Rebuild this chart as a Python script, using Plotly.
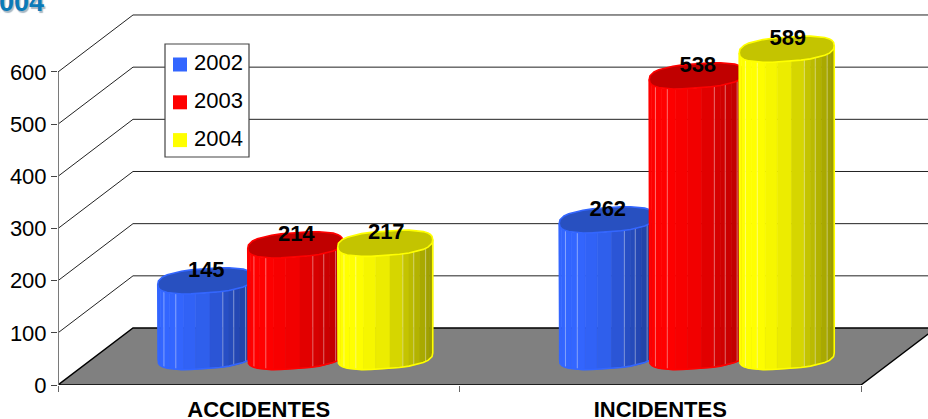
import math
import plotly.graph_objects as go

CATEGORIES = ["ACCIDENTES", "INCIDENTES"]
YEARS = ["2002", "2003", "2004"]
VALUES_2002 = [145, 262]
VALUES_2003 = [214, 538]
VALUES_2004 = [217, 589]
Y_TICKS = [0, 100, 200, 300, 400, 500, 600]

SERIES = [VALUES_2002, VALUES_2003, VALUES_2004]
BRIGHT = [(51, 102, 255), (255, 0, 0), (255, 255, 0)]
CAP = ["#2850c0", "#c00000", "#c4c400"]
FONT = "Liberation Sans, Arial, sans-serif"

W, H = 928, 419
L, B = 58, 34
PX_CAT = 401.5
PX_UNIT = 0.5217
DEPTH_X, DEPTH_Y = 75, 57

plot_w, plot_h = W - L, H - B
x_min = -0.5
x_max = x_min + plot_w / PX_CAT
y_max = plot_h / PX_UNIT


def xu(px):
    return px / PX_CAT


def yu(px):
    return px / PX_UNIT


def paper_x(px):
    return (px - L) / plot_w


def paper_y(py):
    return 1 - py / plot_h


fig = go.Figure()

# back wall gridlines, running from the front axis to the rear wall
gx, gy = [], []
for t in Y_TICKS[1:]:
    gx += [x_min, x_min + xu(DEPTH_X), x_max + 0.1, None]
    gy += [t, t + yu(DEPTH_Y), t + yu(DEPTH_Y), None]
fig.add_trace(go.Scatter(x=gx, y=gy, mode="lines", line=dict(color="#222222", width=1),
                         hoverinfo="skip", showlegend=False))

# floor
fx = [x_min, x_min + xu(DEPTH_X), x_min + 2 + xu(DEPTH_X), x_min + 2, x_min]
fy = [0, yu(DEPTH_Y), yu(DEPTH_Y), 0, 0]
fig.add_trace(go.Scatter(x=fx, y=fy, mode="lines", fill="toself", fillcolor="#808080",
                         line=dict(color="#000000", width=1.4), hoverinfo="skip", showlegend=False))

# y axis line
fig.add_trace(go.Scatter(x=[x_min, x_min], y=[0, 600], mode="lines",
                         line=dict(color="#7a7a7a", width=2), hoverinfo="skip", showlegend=False))

A_PX, B_PX, S_PX = 47.5, 12.2, 3.5
EDGES = [-1, -.95, -.87, -.75, -.62, -.45, -.2, .1, .37, .5, .6, .73, .85, .93, 1]
GLOSS = [-.87, -.62, .37, .6, .85]
BASE = yu(DEPTH_Y / 2)
ROUND = 2.6


def shade(u):
    pts = [(-1, 1), (-.6, 1), (0, .92), (.4, .78), (1, .6)]
    for (a, fa), (b, fb) in zip(pts, pts[1:]):
        if u <= b:
            return fa + (fb - fa) * (u - a) / (b - a)
    return .6


def bulge(u):
    return max(0, 1 - abs(u) ** ROUND) ** (1 / ROUND)


def front(u):
    return yu(B_PX * bulge(u) - S_PX * u)


def back(u):
    return yu(-B_PX * bulge(u) - S_PX * u)


for j, vals in enumerate(SERIES):
    rgb = BRIGHT[j]
    bright = "rgb(%d,%d,%d)" % rgb
    for i, v in enumerate(vals):
        cx = i + xu(36.5) + (j - 1) * xu(90)
        a = xu(A_PX)
        top = BASE + v
        for u0, u1 in zip(EDGES, EDGES[1:]):
            f = shade((u0 + u1) / 2)
            if j == 1:
                f = 1 - (1 - f) * 0.7
            col = "rgb(%d,%d,%d)" % tuple(round(c * f) for c in rgb)
            fig.add_trace(go.Scatter(
                x=[cx + a * u0, cx + a * u1, cx + a * u1, cx + a * u0, cx + a * u0],
                y=[top - front(u0), top - front(u1), BASE - front(u1), BASE - front(u0), top - front(u0)],
                mode="lines", fill="toself", fillcolor=col, line=dict(color=col, width=0.6),
                hoverinfo="skip", showlegend=False))
        lx, ly = [], []
        for u in GLOSS:
            lx += [cx + a * u, cx + a * u, None]
            ly += [top - front(u), BASE - front(u), None]
        fig.add_trace(go.Scatter(x=lx, y=ly, mode="lines",
                                 line=dict(color="rgba(255,255,255,0.4)", width=1),
                                 hoverinfo="skip", showlegend=False))
        us = [-1, -.985, -.95, -.9, -.8, -.65, -.5, -.3, -.1, .1, .3, .5, .65, .8, .9, .95, .985, 1]
        # body outline
        fig.add_trace(go.Scatter(
            x=[cx - a] + [cx + a * u for u in us] + [cx + a],
            y=[top - front(-1)] + [BASE - front(u) for u in us] + [top - front(1)],
            mode="lines", line=dict(color=bright, width=1.6), hoverinfo="skip", showlegend=False))
        # top cap
        fig.add_trace(go.Scatter(
            x=[cx + a * u for u in us] + [cx + a * u for u in reversed(us)],
            y=[top - front(u) for u in us] + [top - back(u) for u in reversed(us)],
            mode="lines", fill="toself", fillcolor=CAP[j],
            line=dict(color=bright, width=1.6), hoverinfo="skip", showlegend=False))

# data labels
for j, vals in enumerate(SERIES):
    fig.add_trace(go.Scatter(
        x=[i + xu(37.5) + (j - 1) * xu(90) for i in range(len(vals))],
        y=[BASE + v + yu(9.5) for v in vals],
        mode="text", text=[str(v) for v in vals], textposition="middle center",
        textfont=dict(family=FONT, size=22, color="#000000"), texttemplate="<b>%{text}</b>",
        hoverinfo="skip", showlegend=False, name=YEARS[j]))

# legend box
shapes = [dict(type="rect", xref="paper", yref="paper",
               x0=paper_x(165), x1=paper_x(249), y0=paper_y(157), y1=paper_y(44),
               fillcolor="#ffffff", line=dict(color="#444444", width=1.2))]
annotations = []
for j, year in enumerate(YEARS):
    sy = 64.5 + j * 37.8
    shapes.append(dict(type="rect", xref="paper", yref="paper",
                       x0=paper_x(173), x1=paper_x(187), y0=paper_y(sy + 7), y1=paper_y(sy - 7),
                       fillcolor="rgb(%d,%d,%d)" % BRIGHT[j], line=dict(width=0)))
    annotations.append(dict(text=year, xref="paper", yref="paper", x=paper_x(194), y=paper_y(sy - 2),
                            xanchor="left", yanchor="middle", showarrow=False,
                            font=dict(family=FONT, size=22, color="#000000"), borderpad=0, borderwidth=0))

# cropped title fragment at top-left of the frame
annotations.append(dict(text="<b>2004</b>", xref="paper", yref="paper",
                        x=paper_x(45), y=paper_y(18),
                        xanchor="right", yanchor="bottom", showarrow=False, borderpad=0,
                        font=dict(family=FONT, size=27, color="#0a7ab8", shadow="1.5px 1.5px 1px #a8b8c4")))

fig.update_layout(
    width=W, height=H, autosize=False,
    margin=dict(l=L, r=0, t=0, b=B, pad=0, autoexpand=False),
    paper_bgcolor="#ffffff", plot_bgcolor="#ffffff",
    showlegend=False, shapes=shapes, annotations=annotations,
    xaxis=dict(range=[x_min, x_max], tickmode="array", tickvals=[0, 1], automargin=False,
               ticktext=["<b>%s</b>" % c for c in CATEGORIES], ticks="", showgrid=False, zeroline=False,
               showline=False, ticklabelstandoff=9,
               tickfont=dict(family=FONT, size=22, color="#000000"),
               minor=dict(tickmode="array", tickvals=[-0.5, 0.5, 1.5], ticks="outside", ticklen=6,
                          tickcolor="#666666", tickwidth=1, showgrid=False)),
    yaxis=dict(range=[0, y_max], tickmode="array", tickvals=Y_TICKS, ticks="outside", ticklen=6,
               tickcolor="#444444", tickwidth=1, showgrid=False, zeroline=False, showline=False,
               automargin=False, ticklabelstandoff=0,
               tickfont=dict(family=FONT, size=22, color="#000000")),
)

fig.write_html("out.html", include_plotlyjs=True,
               config={"displayModeBar": False},
               post_script="document.body.style.margin='0';document.body.style.overflow='hidden';")
